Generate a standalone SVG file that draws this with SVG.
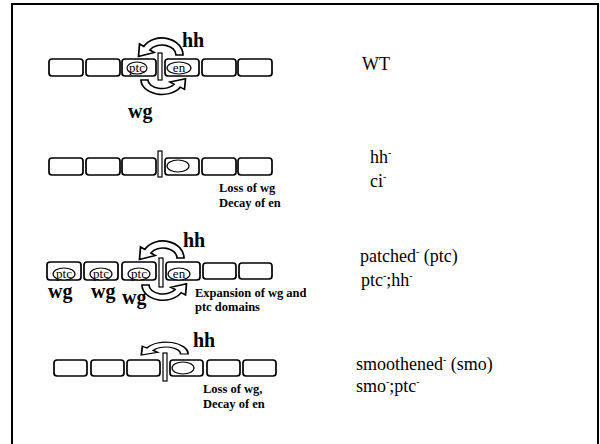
<svg xmlns="http://www.w3.org/2000/svg" width="600" height="444" viewBox="0 0 600 444">
<style>
.cell{fill:#fff;stroke:#000;stroke-width:1.7}
.bar{fill:#fff;stroke:#000;stroke-width:1.2}
.ell{fill:#fff;stroke:#000;stroke-width:1.2}
.in{font-family:"Liberation Serif",serif;font-size:13px;text-anchor:middle;fill:#000}
.lab{font-family:"Liberation Serif",serif;font-weight:bold;font-size:20px;fill:#000}
.note{font-family:"Liberation Serif",serif;font-weight:bold;font-size:12.5px;fill:#000}
.geno{font-family:"Liberation Serif",serif;font-size:18px;fill:#000}
.arr{fill:#fff;stroke:#000;stroke-width:1.7;stroke-linejoin:miter}
</style>
<defs>
<path id="carrow" class="arr" d="M 21,0 A 21 17 0 0 0 -18.2,-8.5 L -22.5,-11 L -23.5,1.5 L -7.8,-2.5 L -12.1,-5 A 14 10 0 0 1 14,0 Z"/>
</defs>
<rect x="12" y="4" width="586" height="450" fill="none" stroke="#000" stroke-width="2"/>

<g id="row-wt">
<rect class="cell" x="49" y="59" width="34" height="17" rx="3"/>
<rect class="cell" x="86" y="59" width="34" height="17" rx="3"/>
<rect class="cell" x="122" y="59" width="34" height="17" rx="3"/>
<rect class="bar" x="158" y="53" width="4" height="27"/>
<rect class="cell" x="165" y="59" width="34" height="17" rx="3"/>
<rect class="cell" x="202" y="59" width="34" height="17" rx="3"/>
<rect class="cell" x="238" y="59" width="34" height="17" rx="3"/>
<ellipse class="ell" cx="137" cy="68" rx="10" ry="6"/>
<text class="in" x="137" y="72">ptc</text>
<ellipse class="ell" cx="179" cy="68" rx="12" ry="6"/>
<text class="in" x="179" y="72">en</text>
<text class="lab" x="182" y="47">hh</text>
<text class="lab" x="128" y="118">wg</text>
</g>

<g id="row-hh">
<rect class="cell" x="49" y="158" width="34" height="17" rx="3"/>
<rect class="cell" x="86" y="158" width="34" height="17" rx="3"/>
<rect class="cell" x="122" y="158" width="34" height="17" rx="3"/>
<rect class="bar" x="158" y="151" width="4" height="26"/>
<rect class="cell" x="165" y="158" width="34" height="17" rx="3"/>
<rect class="cell" x="202" y="158" width="34" height="17" rx="3"/>
<rect class="cell" x="238" y="158" width="34" height="17" rx="3"/>
<ellipse class="ell" cx="178" cy="166" rx="11" ry="6"/>
<text class="note" x="219" y="192">Loss of wg</text>
<text class="note" x="219" y="207">Decay of en</text>
</g>

<g id="row-ptc">
<rect class="cell" x="47" y="262" width="34" height="18" rx="3"/>
<rect class="cell" x="84" y="262" width="34" height="18" rx="3"/>
<rect class="cell" x="122" y="262" width="34" height="18" rx="3"/>
<rect class="bar" x="159" y="258" width="4" height="29"/>
<rect class="cell" x="166" y="262" width="34" height="18" rx="3"/>
<rect class="cell" x="203" y="263" width="33" height="16" rx="3"/>
<rect class="cell" x="239" y="263" width="33" height="16" rx="3"/>
<ellipse class="ell" cx="64" cy="274" rx="11" ry="6"/>
<text class="in" x="64" y="278">ptc</text>
<ellipse class="ell" cx="101" cy="274" rx="11" ry="6"/>
<text class="in" x="101" y="278">ptc</text>
<ellipse class="ell" cx="139" cy="274" rx="11" ry="6"/>
<text class="in" x="139" y="278">ptc</text>
<ellipse class="ell" cx="179" cy="274" rx="11" ry="6"/>
<text class="in" x="179" y="278">en</text>
<text class="lab" x="183" y="247">hh</text>
<text class="lab" x="48" y="298">wg</text>
<text class="lab" x="91" y="298">wg</text>
<text class="lab" x="122" y="304">wg</text>
<text class="note" x="195" y="297">Expansion of wg and</text>
<text class="note" x="195" y="311">ptc domains</text>
</g>

<g id="row-smo">
<rect class="cell" x="54" y="360" width="33" height="16" rx="3"/>
<rect class="cell" x="91" y="360" width="33" height="16" rx="3"/>
<rect class="cell" x="127" y="360" width="33" height="16" rx="3"/>
<rect class="bar" x="163" y="353" width="4" height="28"/>
<rect class="cell" x="170" y="360" width="33" height="16" rx="3"/>
<rect class="cell" x="207" y="360" width="33" height="16" rx="3"/>
<rect class="cell" x="243" y="360" width="33" height="16" rx="3"/>
<ellipse class="ell" cx="183" cy="368" rx="11" ry="6"/>
<text class="lab" x="193" y="347">hh</text>
<text class="note" x="203" y="393">Loss of wg,</text>
<text class="note" x="203" y="408">Decay of en</text>
</g>

<g id="connectors">
<use href="#carrow" transform="translate(162,55)"/>
<use href="#carrow" transform="translate(162,80) rotate(180) scale(1,0.85)"/>
<use href="#carrow" transform="translate(163,258)"/>
<use href="#carrow" transform="translate(163,285) rotate(180) scale(1,0.9)"/>
<use href="#carrow" transform="translate(166,354) scale(1.05,0.7)"/>
</g>

<g id="genotypes">
<text class="geno" x="362" y="70">WT</text>
<text class="geno" x="370" y="163">hh<tspan font-size="10" dy="-7">-</tspan></text>
<text class="geno" x="370" y="187">ci<tspan font-size="10" dy="-7">-</tspan></text>
<text class="geno" x="360" y="262">patched<tspan font-size="10" dy="-7">-</tspan><tspan dy="7"> (ptc)</tspan></text>
<text class="geno" x="361" y="286">ptc<tspan font-size="10" dy="-7">-</tspan><tspan dy="7">;hh</tspan><tspan font-size="10" dy="-7">-</tspan></text>
<text class="geno" x="356" y="370">smoothened<tspan font-size="10" dy="-7">-</tspan><tspan dy="7"> (smo)</tspan></text>
<text class="geno" x="356" y="392">smo<tspan font-size="10" dy="-7">-</tspan><tspan dy="7">;ptc</tspan><tspan font-size="10" dy="-7">-</tspan></text>
</g>
</svg>
